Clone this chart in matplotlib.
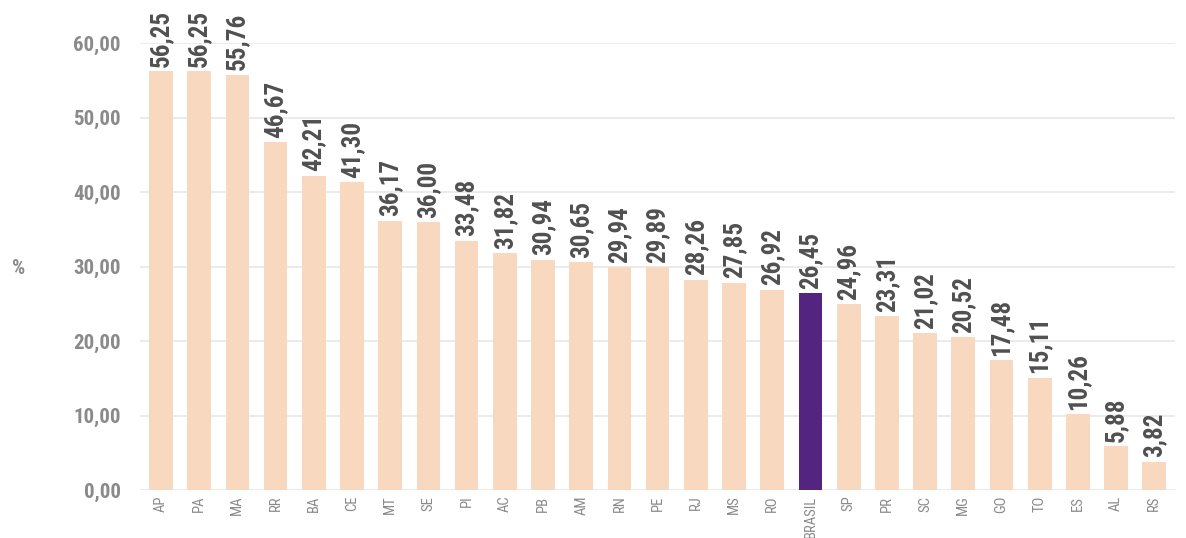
import matplotlib
matplotlib.use("Agg")
import matplotlib.pyplot as plt

estados = ["AP", "PA", "MA", "RR", "BA", "CE", "MT", "SE", "PI", "AC", "PB", "AM", "RN", "PE",
           "RJ", "MS", "RO", "BRASIL", "SP", "PR", "SC", "MG", "GO", "TO", "ES", "AL", "RS"]
valores = [56.25, 56.25, 55.76, 46.67, 42.21, 41.30, 36.17, 36.00, 33.48, 31.82, 30.94, 30.65, 29.94,
           29.89, 28.26, 27.85, 26.92, 26.45, 24.96, 23.31, 21.02, 20.52, 17.48, 15.11, 10.26, 5.88, 3.82]
yticks = [0, 10, 20, 30, 40, 50, 60]

plt.rcParams['font.family'] = ['Roboto Condensed', 'DejaVu Sans']
plt.rcParams['font.stretch'] = 'condensed'

cor_bar = "#F8D9C0"
cor_br = "#532480"

fig = plt.figure(figsize=(11.86, 5.38), dpi=100)
ax = fig.add_axes([0.118, 0.089, 0.873, 0.831])

x = list(range(len(estados)))
cores = [cor_br if e == "BRASIL" else cor_bar for e in estados]
ax.bar(x, valores, width=0.62, color=cores, zorder=2)

for xi, v in zip(x, valores):
    ax.annotate(f"{v:.2f}".replace(".", ","), (xi, v), xytext=(0, 3), textcoords="offset points",
                rotation=90, ha="center", va="bottom", fontsize=18, color="#505050",
                fontweight="bold", clip_on=False)

ax.set_xlim(-0.55, len(estados) - 0.45)
ax.set_ylim(0, 60)
ax.set_yticks(yticks)
ax.set_yticklabels([f"{t:.2f}".replace(".", ",") for t in yticks], fontsize=15,
                   color="#8a8a8a", fontweight="bold")
ax.set_xticks(x)
ax.set_xticklabels(estados, rotation=90, fontsize=10.5, color="#8a8a8a")
ax.tick_params(axis="both", length=0)
ax.tick_params(axis="y", pad=14)
ax.tick_params(axis="x", pad=4)
ax.grid(axis="y", color="#e8e8e8", linewidth=1.2, zorder=0)
for s in ax.spines.values():
    s.set_visible(False)

fig.text(0.016, 0.5, "%", fontsize=15, color="#8a8a8a", ha="center", va="center", fontweight="bold")

fig.savefig("out.png", dpi=100)
